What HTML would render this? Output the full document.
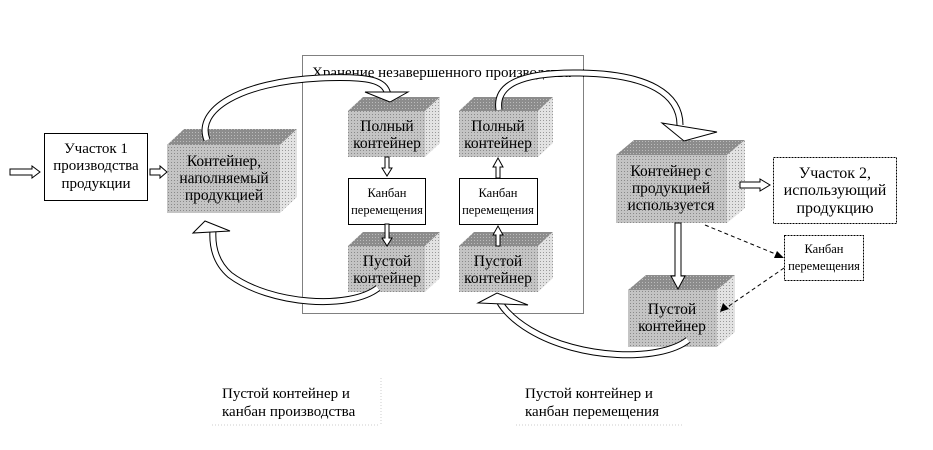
<!DOCTYPE html>
<html><head><meta charset="utf-8"><style>
body{margin:0;background:#fff}
svg{display:block}
text{font-family:"Liberation Serif",serif;fill:#000}
</style></head><body>
<svg width="933" height="450" viewBox="0 0 933 450" xmlns="http://www.w3.org/2000/svg">
<defs>
<pattern id="pf" width="3" height="3" patternUnits="userSpaceOnUse"><rect width="3" height="3" fill="#c4c4c4"/><rect width="1" height="1" fill="#8a8a8a"/></pattern>
<pattern id="pt" width="3" height="3" patternUnits="userSpaceOnUse"><rect width="3" height="3" fill="#8c8c8c"/><rect width="1" height="1" fill="#bbb"/></pattern>
<pattern id="ps" width="3" height="3" patternUnits="userSpaceOnUse"><rect width="3" height="3" fill="#e2e2e2"/><rect width="1" height="1" fill="#999"/></pattern>
</defs>
<rect x="302.5" y="55.5" width="281" height="258" fill="#fff" stroke="#000" stroke-dasharray="1,1"/>
<text x="312" y="77" font-size="15">Хранение незавершенного производства</text>

<g>
<polygon points="167,145 184,129 297,129 280,145" fill="url(#pt)"/>
<polygon points="280,145 297,129 297,197 280,213" fill="url(#ps)"/>
<rect x="167" y="145" width="113" height="68" fill="url(#pf)"/>
<text font-size="15.5" text-anchor="middle"><tspan x="224" y="166">Контейнер,</tspan><tspan x="224" y="183">наполняемый</tspan><tspan x="224" y="200">продукцией</tspan></text>
<polygon points="348,111 363,97 440,97 425,111" fill="url(#pt)"/>
<polygon points="425,111 440,97 440,143 425,157" fill="url(#ps)"/>
<rect x="348" y="111" width="77" height="46" fill="url(#pf)"/>
<text font-size="15.5" text-anchor="middle"><tspan x="387" y="131">Полный</tspan><tspan x="387" y="148">контейнер</tspan></text>
<polygon points="459,111 474,97 553,97 538,111" fill="url(#pt)"/>
<polygon points="538,111 553,97 553,143 538,157" fill="url(#ps)"/>
<rect x="459" y="111" width="79" height="46" fill="url(#pf)"/>
<text font-size="15.5" text-anchor="middle"><tspan x="498" y="131">Полный</tspan><tspan x="498" y="148">контейнер</tspan></text>
<polygon points="348,246 363,232 440,232 425,246" fill="url(#pt)"/>
<polygon points="425,246 440,232 440,278 425,292" fill="url(#ps)"/>
<rect x="348" y="246" width="77" height="46" fill="url(#pf)"/>
<text font-size="15.5" text-anchor="middle"><tspan x="387" y="266">Пустой</tspan><tspan x="387" y="283">контейнер</tspan></text>
<polygon points="459,246 474,232 553,232 538,246" fill="url(#pt)"/>
<polygon points="538,246 553,232 553,278 538,292" fill="url(#ps)"/>
<rect x="459" y="246" width="79" height="46" fill="url(#pf)"/>
<text font-size="15.5" text-anchor="middle"><tspan x="498" y="266">Пустой</tspan><tspan x="498" y="283">контейнер</tspan></text>
<polygon points="616,155 634,140 745,140 727,155" fill="url(#pt)"/>
<polygon points="727,155 745,140 745,208 727,223" fill="url(#ps)"/>
<rect x="616" y="155" width="111" height="68" fill="url(#pf)"/>
<text font-size="15.5" text-anchor="middle"><tspan x="671" y="176">Контейнер с</tspan><tspan x="671" y="193">продукцией</tspan><tspan x="671" y="210">используется</tspan></text>
<polygon points="628,290 646,275 735,275 717,290" fill="url(#pt)"/>
<polygon points="717,290 735,275 735,332 717,347" fill="url(#ps)"/>
<rect x="628" y="290" width="89" height="57" fill="url(#pf)"/>
<text font-size="15.5" text-anchor="middle"><tspan x="672" y="314">Пустой</tspan><tspan x="672" y="331">контейнер</tspan></text>
</g>

<rect x="44.5" y="133.5" width="103" height="67" fill="#fff" stroke="#000"/>
<text font-size="15" text-anchor="middle"><tspan x="96" y="153">Участок 1</tspan><tspan x="96" y="170">производства</tspan><tspan x="96" y="188">продукции</tspan></text>
<rect x="348.5" y="178.5" width="77" height="46" fill="#fff" stroke="#000"/>
<text font-size="12.5" text-anchor="middle"><tspan x="387" y="197">Канбан</tspan><tspan x="387" y="214">перемещения</tspan></text>
<rect x="459.5" y="178.5" width="78" height="46" fill="#fff" stroke="#000"/>
<text font-size="12.5" text-anchor="middle"><tspan x="498" y="197">Канбан</tspan><tspan x="498" y="214">перемещения</tspan></text>
<rect x="773.5" y="157.5" width="123" height="66" fill="#fff" stroke="#000" stroke-dasharray="2,1"/>
<text font-size="16" text-anchor="middle"><tspan x="835" y="178">Участок 2,</tspan><tspan x="835" y="195">использующий</tspan><tspan x="835" y="213">продукцию</tspan></text>
<rect x="784.5" y="235.5" width="79" height="45" fill="#fff" stroke="#000" stroke-dasharray="2,1"/>
<text font-size="12.5" text-anchor="middle"><tspan x="824" y="253">Канбан</tspan><tspan x="824" y="270">перемещения</tspan></text>

<g fill="#fff" stroke="#000" stroke-width="1">
<polygon points="10,169 32,169 32,166 40,172 32,178 32,175 10,175"/>
<polygon points="150,169 160,169 160,166 167,172 160,178 160,175 150,175"/>
<polygon points="385,157 389,157 389,168 392,168 387,176 382,168 385,168"/>
<polygon points="385,224 389,224 389,238 392,238 387,246 382,238 385,238"/>
<polygon points="496,178 500,178 500,167 503,167 498,158 493,167 496,167"/>
<polygon points="496,246 500,246 500,235 503,235 498,226 493,235 496,235"/>
<polygon points="740,182 760,182 760,179 770,185 760,191 760,188 740,188"/>
<polygon points="675,223 681,223 681,276 685,276 678,289 671,276 675,276"/>
</g>
<g stroke="#000" stroke-dasharray="4,3" fill="none">
<line x1="705" y1="225" x2="778" y2="255"/>
<line x1="784" y1="268" x2="726" y2="308"/>
</g>
<polygon points="784,258 774,258 777,251" fill="#000"/>
<polygon points="720,312 723,303 729,309" fill="#000"/>

<g fill="none">
<path id="c1" d="M207,140 C195,110 240,82 320,78 C370,76 385,80 388,95"/>
<path id="c2" d="M499,110 C495,85 520,72 580,73 C650,74 680,95 680,125"/>
<path id="c3" d="M378,288 C350,310 270,305 230,275 C215,262 212,245 213,230"/>
<path id="c4" d="M688,340 C660,362 580,360 530,330 C510,318 500,305 498,298"/>
</g>
<g fill="none" stroke="#000" stroke-width="7">
<use href="#c1"/><use href="#c2"/><use href="#c3"/><use href="#c4"/>
</g>
<g fill="none" stroke="#fff" stroke-width="5">
<use href="#c1"/><use href="#c2"/><use href="#c3"/><use href="#c4"/>
</g>
<g fill="#fff" stroke="#000">
<polygon points="365,92 408,92 390,102"/>
<polygon points="662,123 717,132 684,141"/>
<polygon points="193,233 205,221 230,231"/>
<polygon points="478,303 497,293 528,305"/>
</g>

<text font-size="15"><tspan x="222" y="398">Пустой контейнер и</tspan><tspan x="222" y="416">канбан производства</tspan></text>
<text font-size="15"><tspan x="525" y="398">Пустой контейнер и</tspan><tspan x="525" y="416">канбан перемещения</tspan></text>
<g stroke="#ccc" stroke-dasharray="1,2">
<line x1="212" y1="425" x2="380" y2="425"/>
<line x1="381" y1="378" x2="381" y2="425"/>
<line x1="516" y1="425" x2="683" y2="425"/>
</g>
</svg>
</body></html>
